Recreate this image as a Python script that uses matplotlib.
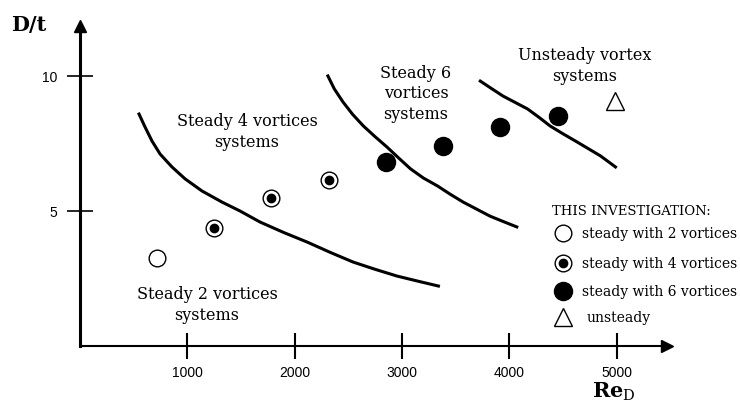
import matplotlib
matplotlib.use('Agg')
import matplotlib.pyplot as plt

plt.rcParams['font.family'] = 'DejaVu Serif'
plt.rcParams['mathtext.fontset'] = 'dejavuserif'

# measured points (Re_D, D/t)
re_2 = [720]
dt_2 = [3.26]
re_4 = [1250, 1780, 2320]
dt_4 = [4.37, 5.48, 6.15]
re_6 = [2850, 3380, 3910, 4450]
dt_6 = [6.81, 7.41, 8.11, 8.52]
re_u = [4990]
dt_u = [9.07]

# regime boundaries
b1_re = [550, 606, 671, 746, 857, 979, 1137, 1323, 1491, 1678, 1900, 2116, 2330, 2544, 2750, 2954, 3150, 3340]
b1_dt = [8.59, 8.11, 7.59, 7.11, 6.63, 6.19, 5.74, 5.33, 5.00, 4.59, 4.20, 3.85, 3.47, 3.11, 2.84, 2.59, 2.40, 2.22]
b2_re = [2310, 2370, 2450, 2540, 2640, 2750, 2860, 2970, 3080, 3200, 3330, 3450, 3570, 3700, 3820, 3950, 4070]
b2_dt = [10.0, 9.52, 9.04, 8.58, 8.15, 7.75, 7.37, 6.96, 6.56, 6.22, 5.93, 5.62, 5.33, 5.06, 4.81, 4.60, 4.41]
b3_re = [3730, 3840, 3940, 4050, 4170, 4280, 4380, 4500, 4630, 4740, 4850, 4990]
b3_dt = [9.81, 9.52, 9.26, 9.03, 8.78, 8.46, 8.15, 7.86, 7.56, 7.30, 7.04, 6.63]

xticks = [1000, 2000, 3000, 4000, 5000]
yticks = [5, 10]

fig = plt.figure(figsize=(7.4, 4.06), dpi=100)
ax = fig.add_axes([80 / 740, 59 / 406, 587 / 740, 320 / 406])
ax.set_xlim(0, 5470)
ax.set_ylim(0, 11.85)

for s in ['top', 'right']:
    ax.spines[s].set_visible(False)
ax.spines['left'].set_linewidth(2.2)
ax.spines['bottom'].set_linewidth(1.5)
ax.plot(1, 0, '>k', ms=9, transform=ax.transAxes, clip_on=False)
ax.plot(0, 1, '^k', ms=9, transform=ax.transAxes, clip_on=False)

ax.set_xticks(xticks)
ax.set_xticklabels([str(t) for t in xticks], fontfamily='Liberation Sans', fontsize=10)
ax.set_yticks(yticks)
ax.set_yticklabels([str(t) for t in yticks], fontfamily='Liberation Sans', fontsize=10)
ax.tick_params(axis='x', direction='inout', length=19, width=1.5, pad=4)
ax.tick_params(axis='y', direction='inout', length=19, width=1.2, pad=7)

ax.plot(b1_re, b1_dt, color='black', lw=2.2, clip_on=False)
ax.plot(b2_re, b2_dt, color='black', lw=2.2, clip_on=False)
ax.plot(b3_re, b3_dt, color='black', lw=2.2, clip_on=False)

ax.plot(re_2, dt_2, 'o', ms=12, mfc='white', mec='black', mew=1)
ax.plot(re_4, dt_4, 'o', ms=12, mfc='white', mec='black', mew=1)
ax.plot(re_4, dt_4, 'o', ms=6, color='black')
ax.plot(re_6, dt_6, 'o', ms=13, color='black')
ax.plot(re_u, dt_u, '^', ms=13, mfc='white', mec='black', mew=1, clip_on=False)

tk = dict(ha='center', va='center', fontsize=11.5, linespacing=1.3)
ax.text(1557, 7.96, 'Steady 4 vortices\nsystems', **tk)
ax.text(3131, 9.37, 'Steady 6\nvortices\nsystems', **tk)
ax.text(4706, 10.4, 'Unsteady vortex\nsystems', **tk)
ax.text(1184, 1.56, 'Steady 2 vortices\nsystems', **tk)

# legend drawn by hand
ax.text(4400, 5.0, 'THIS INVESTIGATION:', fontsize=9.5, va='center')
ax.plot(4500, 4.19, 'o', ms=12, mfc='white', mec='black', mew=1, clip_on=False)
ax.plot(4500, 3.07, 'o', ms=12, mfc='white', mec='black', mew=1, clip_on=False)
ax.plot(4500, 3.07, 'o', ms=6, color='black', clip_on=False)
ax.plot(4500, 2.04, 'o', ms=13, color='black', clip_on=False)
ax.plot(4500, 1.07, '^', ms=13, mfc='white', mec='black', mew=1, clip_on=False)
ax.text(4678, 4.19, 'steady with 2 vortices', fontsize=10, va='center')
ax.text(4678, 3.07, 'steady with 4 vortices', fontsize=10, va='center')
ax.text(4678, 2.04, 'steady with 6 vortices', fontsize=10, va='center')
ax.text(4725, 1.07, 'unsteady', fontsize=10, va='center')

fig.text(11 / 740, 1 - 25 / 406, 'D/t', fontsize=15, fontweight='bold', va='center')
fig.text(614 / 740, 1 - 392 / 406, r'$\mathbf{Re}_\mathrm{D}$', fontsize=15, ha='center', va='center')

plt.savefig('out.png')
